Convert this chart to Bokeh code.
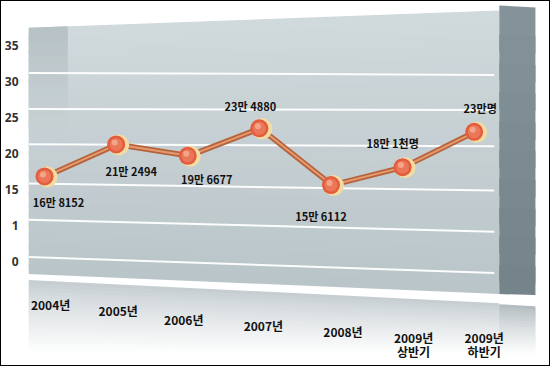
import numpy as np
from bokeh.plotting import figure
from bokeh.models import Range1d, FixedTicker, ColumnDataSource
from bokeh.core.properties import value
from bokeh.embed import file_html
from bokeh.resources import INLINE

# ---------------- data ----------------
periods = ["2004년", "2005년", "2006년", "2007년", "2008년", "2009년\n상반기", "2009년\n하반기"]
visitors = [16.8152, 21.2494, 19.6677, 23.4880, 15.6112, 18.1, 23.0]   # 만 명
value_labels = ["16만 8152", "21만 2494", "19만 6677", "23만 4880", "15만 6112", "18만 1천명", "23만명"]
y_ticks = [35, 30, 25, 20, 15, 10, 5]
y_tick_labels = ["35", "30", "25", "20", "15", "1", "0"]

# ---------------- style ----------------
label_dx = [13, 14, 18, -10, -11, -11, 5]
label_dy = [26, 27, 23, -22, 31, -24, -24]
period_dx = [5, 1, -5, 3, 11, 10, 9]
period_top_px = [294, 300, 309, 315, 321, 327, 327]

X0, XS = 45.0, 71.33     # page px of first category, px per category
Y0, YS = 295.5, 7.17     # page px of value 0, px per unit


def X(px):
    return (px - X0) / XS


def Y(py):
    return (Y0 - py) / YS


def hexrgb(c):
    c = c.lstrip("#")
    return [int(c[i:i + 2], 16) for i in (0, 2, 4)]


def lerp(c1, c2, t):
    a, b = hexrgb(c1), hexrgb(c2)
    t = max(0.0, min(1.0, t))
    return "#%02x%02x%02x" % tuple(int(round(a[i] + (b[i] - a[i]) * t)) for i in range(3))


def band(tl, tr, br, bl, colfn, n, t_end=1.0):
    xs, ys, cols = [], [], []
    for k in range(n):
        t0 = t_end * k / n
        t1 = min(t_end, t_end * (k + 1.6) / n)
        lx0 = tl[0] + (bl[0] - tl[0]) * t0
        ly0 = tl[1] + (bl[1] - tl[1]) * t0
        rx0 = tr[0] + (br[0] - tr[0]) * t0
        ry0 = tr[1] + (br[1] - tr[1]) * t0
        lx1 = tl[0] + (bl[0] - tl[0]) * t1
        ly1 = tl[1] + (bl[1] - tl[1]) * t1
        rx1 = tr[0] + (br[0] - tr[0]) * t1
        ry1 = tr[1] + (br[1] - tr[1]) * t1
        xs.append([X(lx0), X(rx0), X(rx1), X(lx1)])
        ys.append([Y(ly0), Y(ry0), Y(ry1), Y(ly1)])
        cols.append(colfn(t_end * (k + 0.5) / n))
    return xs, ys, cols


# 550x366 outer box with a 1px border -> 548x364 canvas offset by 1px
p = figure(width=550, height=366, output_backend="svg", toolbar_location=None,
           x_range=Range1d(X(28), X(549)), y_range=Range1d(Y(365), Y(1)),
           x_axis_location=None, min_border_left=27, min_border_right=0,
           min_border_top=0, min_border_bottom=0)
p.styles = {"border": "1px solid #000000"}
p.grid.visible = False
p.outline_line_color = None
p.background_fill_color = "white"
p.border_fill_color = "white"

# ---------------- decoration: 3D box ----------------
panel_top, panel_bot = "#d0d9dc", "#bac5c9"
panel_fn = lambda t: lerp(panel_top, panel_bot, t)
xs, ys, cols = band((28, 27), (497, 10), (497, 292), (28, 272), panel_fn, 24)
p.patches(xs, ys, fill_color=cols, line_color=None)

strip_fn = lambda t: lerp("#b6c1c5", panel_fn(t), t / 0.42)
xs, ys, cols = band((28, 27), (67, 25.6), (67, 292 - (292 - 272) * (430 / 469)), (28, 272), strip_fn, 14, t_end=0.42)
p.patches(xs, ys, fill_color=cols, line_color=None)

wall_fn = lambda t: lerp("#85949a", "#74838a", t)
xs, ys, cols = band((497, 5), (533, 7), (533, 293), (497, 292), wall_fn, 10)
p.patches(xs, ys, fill_color=cols, line_color=None)

floor_fn = lambda t: lerp("#c3cbcf", "#ffffff", t ** 0.8)
xs, ys, cols = band((28, 278), (497, 301), (497, 352), (28, 352), floor_fn, 20)
p.patches(xs, ys, fill_color=cols, line_color=None)
floor2_fn = lambda t: lerp("#aeb8bc", "#ffffff", t ** 0.8)
xs, ys, cols = band((497, 302), (533, 304), (533, 352), (497, 352), floor2_fn, 16)
p.patches(xs, ys, fill_color=cols, line_color=None)

grid_left = [72, 108, 143, 182, 218, 255]
grid_right = [74, 109, 145, 189, 230, 271]
p.segment(x0=[X(28)] * 6, y0=[Y(v) for v in grid_left],
          x1=[X(492)] * 6, y1=[Y(v) for v in grid_right],
          line_color="white", line_width=2, line_alpha=0.95)

# ---------------- data marks ----------------
idx = list(range(len(periods)))
src = ColumnDataSource(dict(x=idx, y=visitors, lab=value_labels,
                            dx=label_dx, dy=label_dy))

p.line("x", "y", source=src, line_color="#b6633b", line_width=5.5)
p.line("x", "y", source=src, line_color="#e49a70", line_width=2)


def shifted(dxp, dyp):
    return ([i + dxp / XS for i in idx], [v - dyp / YS for v in visitors])


rx, ry = shifted(1.5, 0.5)
p.scatter(rx, ry, size=21, fill_color="#f2dca2", line_color=None)
bx, by = shifted(-1, 0)
p.scatter(bx, by, size=18, fill_color="#e25c3d", line_color=None)
p.scatter(bx, by, size=13, fill_color="#ec7a5c", line_color=None, fill_alpha=0.9)
hx, hy = shifted(-2.5, -2)
p.scatter(hx, hy, size=6, fill_color="#f6ad92", line_color=None, fill_alpha=0.85)

p.text("x", "y", text="lab", source=src, x_offset="dx", y_offset="dy",
       text_align="center", text_baseline="middle",
       text_font=value("Noto Sans CJK KR"), text_font_style="bold",
       text_font_size="11px", text_color="#111111")

psrc = ColumnDataSource(dict(x=idx, y=[Y(v) for v in period_top_px],
                             t=periods, dx=period_dx))
p.text("x", "y", text="t", source=psrc, x_offset="dx",
       text_align="center", text_baseline="top", text_line_height=0.82,
       text_font=value("Noto Sans CJK KR"), text_font_style="bold",
       text_font_size="12px", text_color="#111111")

# ---------------- axis ----------------
ax = p.yaxis[0]
ax.ticker = FixedTicker(ticks=y_ticks)
ax.major_label_overrides = {t: l for t, l in zip(y_ticks, y_tick_labels)}
ax.axis_line_color = None
ax.major_tick_line_color = None
ax.minor_tick_line_color = None
ax.major_tick_out = 0
ax.major_label_standoff = 10
ax.major_label_text_font = "Noto Sans"
ax.major_label_text_font_style = "bold"
ax.major_label_text_font_size = "12px"
ax.major_label_text_color = "#333333"

open("out.html", "w").write(file_html(p, INLINE))
